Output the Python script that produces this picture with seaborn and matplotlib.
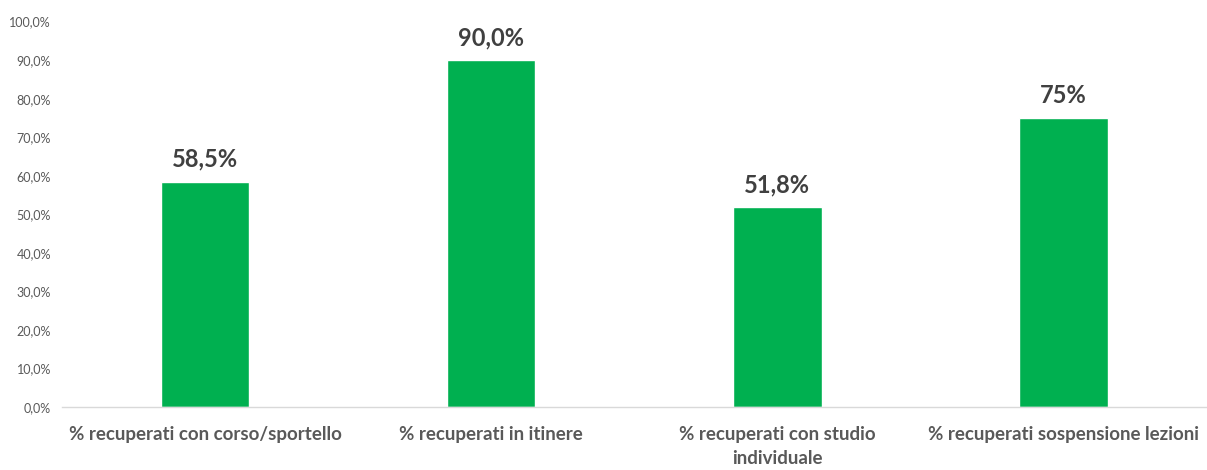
import matplotlib
matplotlib.use("Agg")
import matplotlib.pyplot as plt
import seaborn as sns
import pandas as pd
from matplotlib.ticker import FuncFormatter

# data
categories = [
    "% recuperati con corso/sportello",
    "% recuperati in itinere",
    "% recuperati con studio\nindividuale",
    "% recuperati sospensione lezioni",
]
values = [58.5, 90.0, 51.8, 75.0]
value_labels = ["58,5%", "90,0%", "51,8%", "75%"]

df = pd.DataFrame({"Categoria": categories, "Valore": values})

sns.set_style("white")
plt.rcParams["font.family"] = ["Lato", "DejaVu Sans"]

fig = plt.figure(figsize=(12.07, 4.70), dpi=100)
ax = fig.add_axes([0.0514, 0.134, 0.948, 0.820])

sns.barplot(data=df, x="Categoria", y="Valore", color="#00b050",
            width=0.31, saturation=1, ax=ax)

# value labels above bars
for i, (v, lab) in enumerate(zip(values, value_labels)):
    ax.annotate(lab, (i, v), xytext=(0, 8), textcoords="offset points",
                ha="center", va="bottom", fontsize=17, fontweight="bold",
                color="#404040")

ax.set_ylim(0, 100)
ax.set_xlim(-0.5, 3.5)
ax.set_yticks(range(0, 101, 10))
ax.yaxis.set_major_formatter(FuncFormatter(lambda y, _: f"{y:.1f}%".replace(".", ",")))
ax.tick_params(axis="y", labelsize=9, labelcolor="#595959", length=0, pad=8)
ax.tick_params(axis="x", labelsize=13.5, labelcolor="#595959", length=0, pad=14)
for t in ax.get_xticklabels():
    t.set_fontweight("bold")
    t.set_linespacing(1.5)

ax.set_xlabel("")
ax.set_ylabel("")
sns.despine(ax=ax, left=True)
ax.spines["bottom"].set_color("#d9d9d9")
ax.spines["bottom"].set_linewidth(1)

fig.savefig("out.png", dpi=100)
